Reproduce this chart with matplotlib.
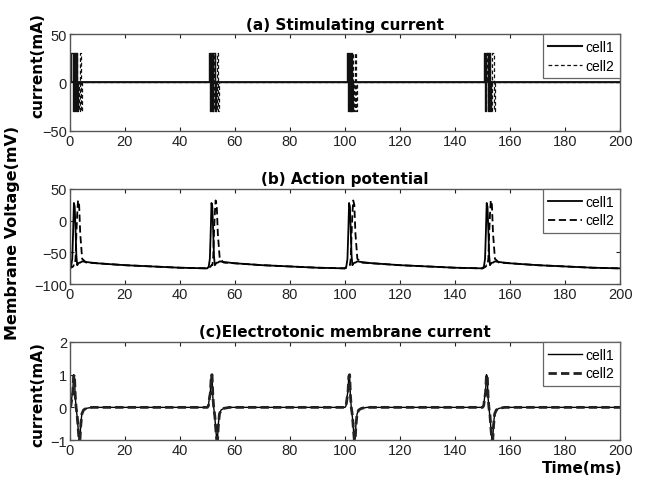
import numpy as np
import matplotlib
matplotlib.use("Agg")
import matplotlib.pyplot as plt

plt.rcParams['font.family'] = ['Liberation Sans', 'DejaVu Sans']

# --- data ---
onsets = [0, 50, 100, 150]

# (a) stimulating current: step levels after each time offset (ms from onset)
stim1_t = [0.6, 1.0, 1.4, 1.8, 2.2, 2.6, 3.0]
stim1_v = [30, -30, 30, -30, 30, -30, 0]
stim2_t = [1.6, 2.0, 2.4, 2.8, 3.2, 3.6, 4.0, 4.4]
stim2_v = [30, -30, 30, 0, -30, 30, -30, 0]

# (b) action potential, one cycle (ms from onset, mV)
ap_t = [0.0, 0.5, 0.9, 1.2, 1.5, 1.8, 2.1, 2.4, 2.7, 3.0, 3.4, 3.8, 4.5, 6.0, 10.0, 20.0, 30.0, 40.0, 49.9]
ap1 = [-75, -72, -60, -20, 28, 22, -15, -55, -70, -68, -66, -66, -64, -65, -67, -70, -72, -74, -75]
ap2 = [-75, -74, -73, -72, -70, -70, -60, -20, 10, 32, 25, -20, -60, -66, -67, -70, -72, -74, -75]
ap_start = [-66, -70]

# (c) electrotonic membrane current, one cycle (ms from onset, mA)
ec_t = [0.0, 0.4, 0.8, 1.1, 1.4, 1.7, 2.0, 2.3, 2.7, 3.1, 3.4, 3.7, 4.0, 4.4, 5.0, 6.0, 8.0, 49.9]
ec1 = [0.0, 0.05, 0.35, 0.5, 1.0, 0.95, 0.3, 0.0, -0.3, -0.7, -1.0, -0.95, -0.5, -0.2, -0.08, -0.03, 0.0, 0.0]
ec2 = [0.0, 0.05, 0.3, 0.45, 0.95, 1.0, 0.35, 0.0, -0.25, -0.7, -1.0, -1.0, -0.55, -0.2, -0.08, -0.03, 0.0, 0.0]

xticks = list(range(0, 201, 20))


def repeat_cycle(t, v, first=None):
    tt, vv = [], []
    for on in onsets:
        for a, b in zip(t, v):
            tt.append(on + a)
            vv.append(b)
    if first is not None:
        vv[0] = first
    tt.append(200)
    vv.append(vv[-1])
    return tt, vv


def steps(t, v):
    tt, vv = [0], [0]
    for on in onsets:
        for a, b in zip(t, v):
            tt.append(on + a)
            vv.append(b)
    tt.append(200)
    vv.append(0)
    return tt, vv


def style(ax, ylim, yticks):
    ax.set_xlim(0, 200)
    ax.set_ylim(*ylim)
    ax.set_xticks(xticks)
    ax.set_yticks(yticks)
    ax.tick_params(direction='in', top=True, right=True, length=3,
                   labelsize=10.5, colors='#222222', pad=2)
    for s in ax.spines.values():
        s.set_color('#555555')
        s.set_linewidth(1.0)
    leg = ax.legend(loc='upper right', borderaxespad=0, fontsize=10,
                    fancybox=False, handlelength=2.4, handletextpad=0.3,
                    borderpad=0.4, labelspacing=0.35, framealpha=1)
    leg.get_frame().set_edgecolor('#666666')
    leg.get_frame().set_linewidth(0.9)


fig = plt.figure(figsize=(6.46, 4.81), dpi=100)
ax1 = fig.add_axes([0.108, 0.726, 0.852, 0.201])
ax2 = fig.add_axes([0.108, 0.407, 0.852, 0.198])
ax3 = fig.add_axes([0.108, 0.083, 0.852, 0.204])

tb = dict(fontsize=11, fontweight='bold', family='DejaVu Sans')

t1, v1 = steps(stim1_t, stim1_v)
t2, v2 = steps(stim2_t, stim2_v)
ax1.plot(t1, v1, '-', color='#111111', lw=1.0, drawstyle='steps-post')
ax1.plot(t2, v2, '--', color='#111111', lw=0.9, drawstyle='steps-post', dashes=(3, 2))
ax1.plot([], [], '-', color='#111111', lw=1.5, label='cell1')
ax1.plot([], [], '--', color='#111111', lw=0.9, label='cell2', dashes=(3, 2))
ax1.axhline(0, color='#111111', lw=1.3)
style(ax1, (-50, 50), [-50, 0, 50])
ax1.set_title('(a) Stimulating current', pad=4, **tb)
ax1.set_ylabel('current(mA)', **tb)
ax1.yaxis.set_label_coords(-0.045, 0.68)

t1, v1 = repeat_cycle(ap_t, ap1, ap_start[0])
t2, v2 = repeat_cycle(ap_t, ap2, ap_start[1])
ax2.plot(t1, v1, 'k-', lw=1.3, label='cell1')
ax2.plot(t2, v2, 'k--', lw=1.3, label='cell2', dashes=(4, 2))
style(ax2, (-100, 50), [-100, -50, 0, 50])
ax2.set_title('(b) Action potential', pad=4, **tb)
ax2.set_ylabel('Membrane Voltage(mV)', fontsize=11.5, fontweight='bold', family='DejaVu Sans')
ax2.yaxis.set_label_coords(-0.09, 0.55)

t1, v1 = repeat_cycle(ec_t, ec1)
t2, v2 = repeat_cycle(ec_t, ec2)
ax3.plot(t1, v1, 'k-', lw=1.0, label='cell1')
ax3.plot(t2, v2, '--', color='#222222', lw=2.0, label='cell2', dashes=(3, 1.5))
style(ax3, (-1, 2), [-1, 0, 1, 2])
ax3.set_title('(c)Electrotonic membrane current', pad=4, **tb)
ax3.set_ylabel('current(mA)', **tb)
ax3.yaxis.set_label_coords(-0.045, 0.47)
ax3.set_xlabel('Time(ms)', **tb)
ax3.xaxis.set_label_coords(0.93, -0.2)

fig.savefig('out.png', dpi=100)
